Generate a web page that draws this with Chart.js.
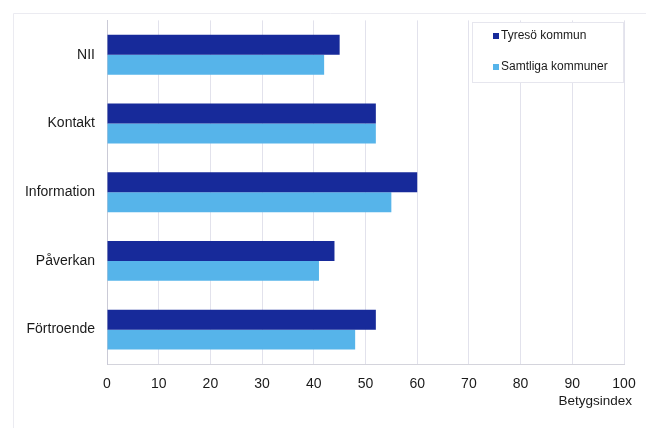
<!DOCTYPE html>
<html lang="sv">
<head>
    <meta charset="UTF-8">
    <title>Betygsindex</title>
    <script src="https://cdn.jsdelivr.net/npm/chart.js"></script>
    <style>
        html, body {
            margin: 0;
            padding: 0;
            background: #ffffff;
        }
        #wrap {
            width: 646px;
            height: 428px;
        }
    </style>
</head>
<body>
    <div id="wrap">
        <canvas id="indexChart" width="646" height="428"></canvas>
    </div>

    <script>
        // data
        const categories = ['NII', 'Kontakt', 'Information', 'Påverkan', 'Förtroende'];
        const seriesNames = ['Tyresö kommun', 'Samtliga kommuner'];
        const tyreso = [45, 52, 60, 44, 52];
        const samtliga = [42, 52, 55, 41, 48];
        const axisTitle = 'Betygsindex';

        const darkBlue = '#172a9a';
        const lightBlue = '#56b4ea';
        const fontFamily = '"Liberation Sans", Arial, sans-serif';

        // faint outer frame like the original figure
        const framePlugin = {
            id: 'frame',
            beforeDraw(chart) {
                const c = chart.ctx;
                c.save();
                c.strokeStyle = '#ebebf1';
                c.lineWidth = 1;
                c.beginPath();
                c.moveTo(13.5, 440);
                c.lineTo(13.5, 13.5);
                c.lineTo(650, 13.5);
                c.stroke();
                c.restore();
            }
        };

        // axis title under the last tick, and legend box inside the plot
        const overlayPlugin = {
            id: 'overlay',
            afterDraw(chart) {
                const c = chart.ctx;
                c.save();
                c.fillStyle = '#1a1a1a';
                c.font = '13.5px ' + fontFamily;
                c.textAlign = 'right';
                c.textBaseline = 'middle';
                c.fillText(axisTitle, 632, 401);

                // legend
                const bx = 472.5, by = 22.5, bw = 151, bh = 60;
                c.fillStyle = '#ffffff';
                c.fillRect(bx, by, bw, bh);
                c.strokeStyle = '#e6e6ee';
                c.strokeRect(bx, by, bw, bh);

                c.font = '12px ' + fontFamily;
                c.textAlign = 'left';
                chart.data.datasets.forEach((ds, i) => {
                    const y = 36 + i * 31;
                    c.fillStyle = ds.backgroundColor;
                    c.fillRect(493, y - 3, 6, 6);
                    c.fillStyle = '#1a1a1a';
                    c.fillText(ds.label, 501, y);
                });
                c.restore();
            }
        };

        new Chart(document.getElementById('indexChart'), {
            type: 'bar',
            data: {
                labels: categories,
                datasets: [
                    {
                        label: seriesNames[0],
                        data: tyreso,
                        backgroundColor: darkBlue,
                        categoryPercentage: 0.58,
                        barPercentage: 1.0
                    },
                    {
                        label: seriesNames[1],
                        data: samtliga,
                        backgroundColor: lightBlue,
                        categoryPercentage: 0.58,
                        barPercentage: 1.0
                    }
                ]
            },
            options: {
                indexAxis: 'y',
                responsive: false,
                animation: false,
                layout: {
                    padding: { left: 0, top: 18, right: 22, bottom: 0 }
                },
                plugins: {
                    legend: { display: false },
                    tooltip: { enabled: false }
                },
                scales: {
                    x: {
                        min: 0,
                        max: 100,
                        ticks: {
                            stepSize: 10,
                            padding: 12,
                            color: '#1a1a1a',
                            font: { family: fontFamily, size: 14 }
                        },
                        grid: {
                            color: '#e2e2ec',
                            drawTicks: false
                        },
                        border: { color: '#d4d4dc' },
                        afterFit(scale) {
                            scale.height = 64;
                            scale.paddingRight = 0;
                            scale.paddingLeft = 0;
                        }
                    },
                    y: {
                        ticks: {
                            padding: 12,
                            color: '#1a1a1a',
                            font: { family: fontFamily, size: 14 }
                        },
                        grid: { display: false, drawTicks: false },
                        border: { color: '#cacad6' },
                        afterFit(scale) {
                            scale.width = 107;
                        }
                    }
                }
            },
            plugins: [framePlugin, overlayPlugin]
        });
    </script>
</body>
</html>
